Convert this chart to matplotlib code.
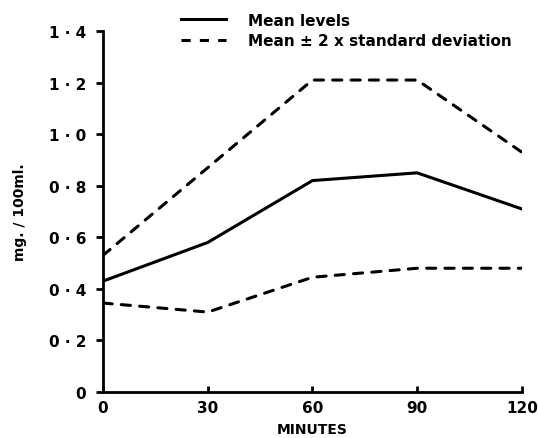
import matplotlib.pyplot as plt
from matplotlib.lines import Line2D

minutes = [0, 30, 60, 90, 120]
mean_levels = [0.43, 0.58, 0.82, 0.85, 0.71]
upper_2sd = [0.53, 0.87, 1.21, 1.21, 0.93]
lower_2sd = [0.345, 0.31, 0.445, 0.48, 0.48]

y_ticks = [0, 0.2, 0.4, 0.6, 0.8, 1.0, 1.2, 1.4]
y_labels = ["0", "0 · 2", "0 · 4", "0 · 6", "0 · 8", "1 · 0", "1 · 2", "1 · 4"]

plt.rcParams["font.family"] = ["DejaVu Sans"]
plt.rcParams["font.weight"] = "bold"

fig = plt.figure(figsize=(5.38, 4.39), dpi=100)
ax = fig.add_axes([0.1915, 0.1048, 0.7785, 0.8222])

ax.plot(minutes, mean_levels, color="black", linewidth=2.2,
        solid_joinstyle="miter")
ax.plot(minutes, upper_2sd, color="black", linewidth=2.2,
        linestyle=(0, (3, 3)), dash_capstyle="round")
ax.plot(minutes, lower_2sd, color="black", linewidth=2.2,
        linestyle=(0, (3, 3)), dash_capstyle="round")

ax.set_xlim(0, 120)
ax.set_ylim(0, 1.4)
ax.set_xticks(minutes)
ax.set_xticklabels([str(m) for m in minutes])
ax.set_yticks(y_ticks)
ax.set_yticklabels(y_labels)

for side in ["top", "right"]:
    ax.spines[side].set_visible(False)
for side in ["left", "bottom"]:
    ax.spines[side].set_linewidth(2)

ax.tick_params(axis="y", direction="out", length=5, width=2,
               labelsize=11, pad=7)
ax.tick_params(axis="x", direction="in", length=4, width=2,
               labelsize=11, pad=6)

ax.set_xlabel("MINUTES", fontsize=10, fontweight="bold", labelpad=5)
ax.set_ylabel("mg. / 100ml.", fontsize=10, fontweight="bold", labelpad=16)

handles = [
    Line2D([], [], color="black", linewidth=2.2),
    Line2D([], [], color="black", linewidth=2.2, linestyle=(0, (3, 3))),
]
fig.legend(handles, ["Mean levels", "Mean ± 2 x standard deviation"],
           loc="upper left", bbox_to_anchor=(0.31, 1.0), frameon=False,
           fontsize=11, handlelength=3.0, handletextpad=1.4,
           labelspacing=0.35)

fig.savefig("out.png", dpi=100)
